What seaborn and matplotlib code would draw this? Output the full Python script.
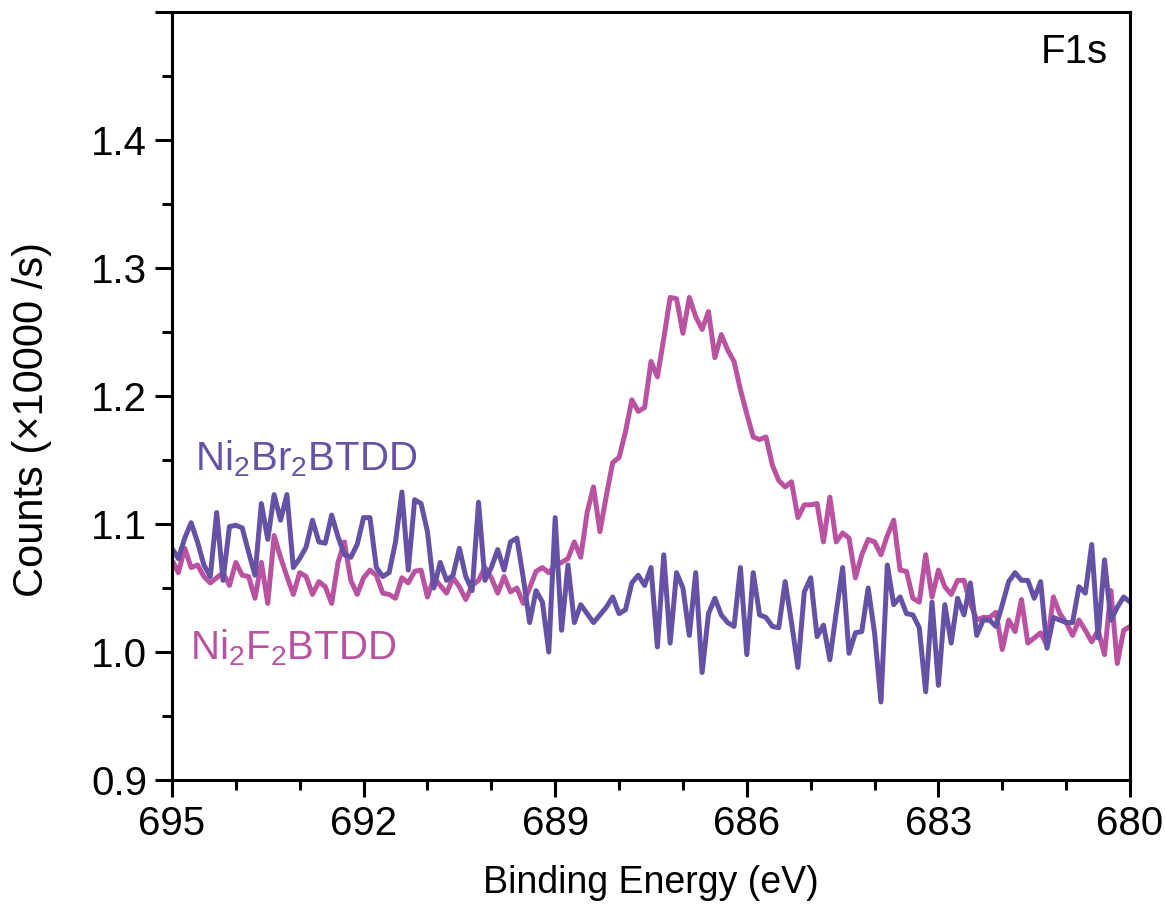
import numpy as np
import pandas as pd
import matplotlib
matplotlib.use("Agg")
import matplotlib.pyplot as plt
import seaborn as sns

# ---- data ----
energy = np.round(np.arange(695.0, 679.95, -0.1), 1)  # binding energy grid (eV), 0.1 eV step

f2_counts = [
    1.072, 1.062, 1.081, 1.066, 1.068, 1.059, 1.054, 1.058, 1.062, 1.052,
    1.070, 1.060, 1.059, 1.042, 1.070, 1.038, 1.091, 1.074, 1.059, 1.045,
    1.062, 1.059, 1.045, 1.055, 1.051, 1.038, 1.070, 1.086, 1.056, 1.045,
    1.058, 1.064, 1.060, 1.046, 1.045, 1.042, 1.058, 1.054, 1.063, 1.064,
    1.043, 1.058, 1.052, 1.046, 1.058, 1.051, 1.041, 1.052, 1.056, 1.066,
    1.058, 1.046, 1.059, 1.047, 1.050, 1.038, 1.050, 1.063, 1.066, 1.062,
    1.068, 1.070, 1.073, 1.086, 1.074, 1.109, 1.129, 1.094, 1.122, 1.148,
    1.152, 1.172, 1.197, 1.188, 1.191, 1.227, 1.215, 1.245, 1.277, 1.276,
    1.249, 1.277, 1.262, 1.252, 1.266, 1.230, 1.248, 1.236, 1.227, 1.205,
    1.186, 1.168, 1.166, 1.168, 1.146, 1.134, 1.129, 1.133, 1.105, 1.115,
    1.115, 1.116, 1.086, 1.121, 1.086, 1.093, 1.089, 1.058, 1.076, 1.088,
    1.086, 1.076, 1.091, 1.103, 1.064, 1.063, 1.042, 1.039, 1.076, 1.043,
    1.064, 1.051, 1.045, 1.056, 1.056, 1.038, 1.025, 1.027, 1.027, 1.031,
    1.002, 1.025, 1.016, 1.041, 1.007, 1.011, 1.015, 1.005, 1.043, 1.030,
    1.023, 1.013, 1.025, 1.017, 1.008, 1.017, 0.998, 1.048, 0.991, 1.017,
    1.020,
]

br2_counts = [
    1.081, 1.073, 1.089, 1.101, 1.086, 1.068, 1.059, 1.109, 1.056, 1.098,
    1.099, 1.097, 1.078, 1.060, 1.116, 1.088, 1.123, 1.103, 1.123, 1.066,
    1.073, 1.082, 1.103, 1.086, 1.085, 1.107, 1.090, 1.076, 1.074, 1.084,
    1.105, 1.105, 1.066, 1.059, 1.062, 1.086, 1.125, 1.064, 1.119, 1.116,
    1.094, 1.050, 1.070, 1.056, 1.060, 1.081, 1.059, 1.048, 1.117, 1.056,
    1.066, 1.080, 1.064, 1.086, 1.089, 1.058, 1.023, 1.048, 1.039, 1.000,
    1.105, 1.017, 1.068, 1.023, 1.037, 1.030, 1.023, 1.029, 1.035, 1.043,
    1.030, 1.033, 1.054, 1.060, 1.052, 1.066, 1.004, 1.076, 1.007, 1.062,
    1.050, 1.013, 1.062, 0.984, 1.030, 1.042, 1.029, 1.023, 1.020, 1.066,
    0.998, 1.062, 1.029, 1.027, 1.020, 1.019, 1.055, 1.023, 0.988, 1.047,
    1.058, 1.012, 1.021, 0.994, 1.031, 1.066, 0.999, 1.015, 1.016, 1.050,
    1.015, 0.961, 1.068, 1.037, 1.043, 1.030, 1.029, 1.019, 0.969, 1.039,
    0.974, 1.037, 1.007, 1.042, 1.029, 1.054, 1.013, 1.025, 1.025, 1.020,
    1.037, 1.055, 1.062, 1.056, 1.056, 1.042, 1.055, 1.003, 1.027, 1.025,
    1.023, 1.023, 1.051, 1.046, 1.084, 1.011, 1.072, 1.025, 1.035, 1.043,
    1.039,
]

series_names = ["Ni2F2BTDD", "Ni2Br2BTDD"]
x_ticks = [695, 692, 689, 686, 683, 680]
y_ticks = [0.9, 1.0, 1.1, 1.2, 1.3, 1.4, 1.5]
y_tick_labels = ["0.9", "1.0", "1.1", "1.2", "1.3", "1.4", ""]

purple = "#6652A5"
pink = "#B952A0"

df = pd.concat([
    pd.DataFrame({"E": energy, "counts": f2_counts, "sample": series_names[0]}),
    pd.DataFrame({"E": energy, "counts": br2_counts, "sample": series_names[1]}),
])

# ---- style ----
sns.set_style("ticks")
plt.rcParams["font.family"] = ["Liberation Sans", "DejaVu Sans"]
plt.rcParams["mathtext.default"] = "regular"
plt.rcParams["text.color"] = "black"
plt.rcParams["axes.labelcolor"] = "black"
plt.rcParams["xtick.color"] = "black"
plt.rcParams["ytick.color"] = "black"

fig = plt.figure(figsize=(11.65, 9.15), dpi=100)
ax = fig.add_axes([0.1476, 0.1475, 0.8224, 0.8394])

sns.lineplot(data=df, x="E", y="counts", hue="sample",
             palette={series_names[0]: pink, series_names[1]: purple},
             hue_order=[series_names[0], series_names[1]],
             linewidth=3.6, legend=False, ax=ax, sort=False, estimator=None)

ax.set_xlim(695, 680)
ax.set_ylim(0.9, 1.5)
ax.set_xticks(x_ticks)
ax.set_xticklabels([str(t) for t in x_ticks])
ax.set_xticks(np.arange(680, 696, 1), minor=True)
ax.set_yticks(y_ticks)
ax.set_yticklabels(y_tick_labels)
ax.set_yticks(np.arange(0.9, 1.501, 0.05), minor=True)

for s in ax.spines.values():
    s.set_linewidth(2.2)
    s.set_color("black")
ax.tick_params(which="major", direction="out", length=12, width=2.2,
               labelsize=29, pad=6, colors="black")
ax.tick_params(which="minor", direction="out", length=7, width=2.2)

ax.set_xlabel("Binding Energy (eV)", fontsize=27, labelpad=16)
ax.set_ylabel("Counts (\u00d710000 /s)", fontsize=30, labelpad=16)
ax.yaxis.set_label_coords(-0.125, 0.47)

ax.text(694.64, 1.142, r"Ni$_2$Br$_2$BTDD", color=purple, fontsize=29,
        ha="left", va="baseline")
ax.text(694.72, 0.994, r"Ni$_2$F$_2$BTDD", color=pink, fontsize=29,
        ha="left", va="baseline")
ax.text(0.977, 0.934, "F1s", transform=ax.transAxes, fontsize=29,
        ha="right", va="baseline", color="black")

fig.savefig("out.png", dpi=100)
